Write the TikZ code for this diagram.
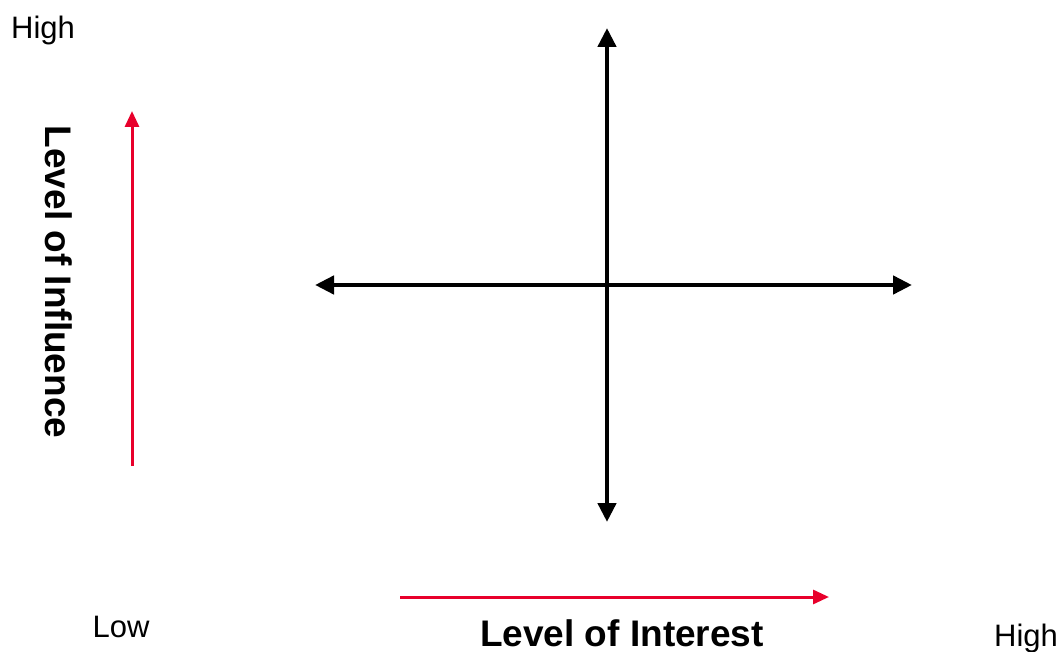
\documentclass[tikz,border=0pt]{standalone}
\usepackage{fontspec}
\setmainfont{Liberation Sans}
\usetikzlibrary{arrows.meta}
\definecolor{axisred}{RGB}{232,0,43}

\begin{document}
\begin{tikzpicture}[x=1pt, y=-1pt,
    axis/.style={line width=4.5pt, {Triangle[width=18pt, length=19pt]}-{Triangle[width=18pt, length=19pt]}},
    scale arr/.style={line width=3pt, axisred, -{Triangle[width=14pt, length=16pt]}},
    tick/.style={font=\fontsize{31}{36}\selectfont, inner sep=0pt},
    ttl/.style={font=\fontsize{37}{42}\selectfont\bfseries, inner sep=0pt}
  ]
  \useasboundingbox (0,0) rectangle (1063,652);

  % quadrant axes
  \coordinate (top) at (607,28);
  \coordinate (bot) at (607,522);
  \coordinate (left) at (315,285);
  \coordinate (right) at (912,285);
  \draw[axis] (bot) -- (top);
  \draw[axis] (left) -- (right);

  % influence scale
  \coordinate (inf0) at (132,466);
  \coordinate (inf1) at (132,111);
  \draw[scale arr] (inf0) -- (inf1);
  \node[ttl, rotate=-90] (inflbl) at (59,282) {Level of Influence};
  \node[tick] (infhigh) at (43,30) {High};

  % interest scale
  \coordinate (int0) at (400,597);
  \coordinate (int1) at (829,597);
  \draw[scale arr] (int0) -- (int1);
  \node[ttl] (intlbl) at (622,633) {Level of Interest};
  \node[tick] (intlow) at (121,627) {Low};
  \node[tick] (inthigh) at (1026,638) {High};
\end{tikzpicture}
\end{document}
